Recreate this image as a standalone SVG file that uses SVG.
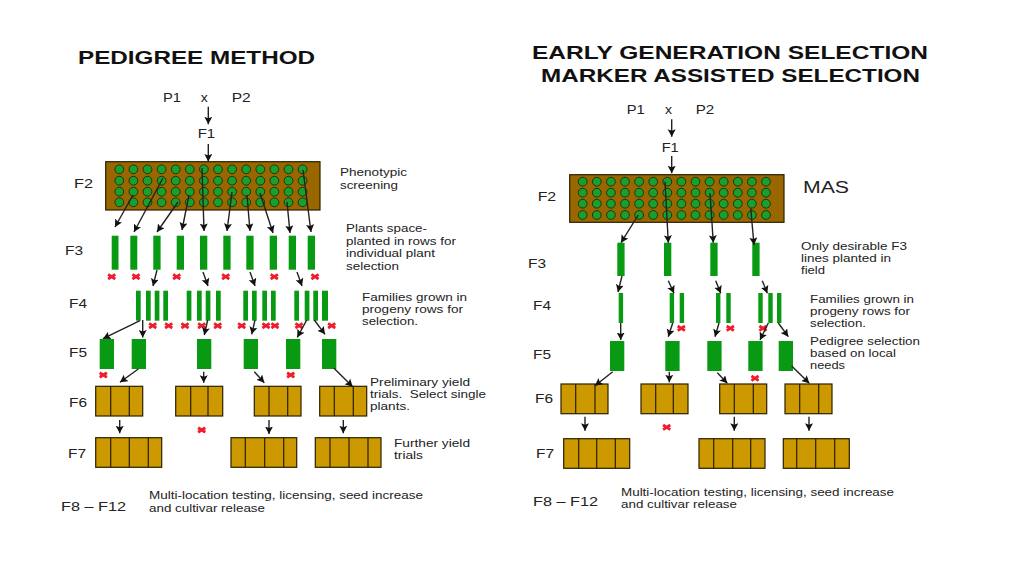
<svg xmlns="http://www.w3.org/2000/svg" width="1024" height="576" viewBox="0 0 1024 576">
<style>
text{font-family:"Liberation Sans",Arial,sans-serif;fill:#222}
.title{font-size:18px;font-weight:bold;fill:#111}
.gen{font-size:13px}
.note{font-size:11px}
.mas{font-size:16px}
.field{fill:#996600;stroke:#2a2000;stroke-width:1.2}
.bar{fill:#089a12}
.box{fill:#cc9900;stroke:#2a2000;stroke-width:1.2}
.dot{fill:#18a02c;stroke:#1c2a14;stroke-width:.9}
.cut{fill:none;stroke:#2a2000;stroke-width:1.2}
.arrow{fill:none;stroke:#222;stroke-width:1.4;marker-end:url(#head)}
.rej{fill:none;stroke:#ee1c2c;stroke-width:2.8}
</style>
<defs>
<marker id="head" markerUnits="userSpaceOnUse" markerWidth="9" markerHeight="9" refX="7.5" refY="4" orient="auto"><path d="M0 0L7.5 4L0 8L1.5 4Z" fill="#111"/></marker>
<path id="x" class="rej" d="M-3.6-2.3L3.6 2.3M-3.6 2.3L3.6-2.3"/>
<g id="row"><circle class="dot" cx="0" r="4.4"/><circle class="dot" cx="14.1" r="4.4"/><circle class="dot" cx="28.2" r="4.4"/><circle class="dot" cx="42.3" r="4.4"/><circle class="dot" cx="56.4" r="4.4"/><circle class="dot" cx="70.5" r="4.4"/><circle class="dot" cx="84.6" r="4.4"/><circle class="dot" cx="98.7" r="4.4"/><circle class="dot" cx="112.8" r="4.4"/><circle class="dot" cx="126.9" r="4.4"/><circle class="dot" cx="141" r="4.4"/><circle class="dot" cx="155.1" r="4.4"/><circle class="dot" cx="169.2" r="4.4"/><circle class="dot" cx="183.3" r="4.4"/></g>
</defs>
<rect width="1024" height="576" fill="#fff"/>

<g id="left-panel">
<g id="left-title"><text class="title" x="78" y="64" textLength="237" lengthAdjust="spacingAndGlyphs">PEDIGREE METHOD</text></g>
<g id="L-P1"><text class="gen" x="163" y="102.3" textLength="18" lengthAdjust="spacingAndGlyphs">P1</text></g>
<g id="L-x"><text class="gen" x="200.7" y="102.3" textLength="7" lengthAdjust="spacingAndGlyphs">x</text></g>
<g id="L-P2"><text class="gen" x="231.7" y="102.3" textLength="19" lengthAdjust="spacingAndGlyphs">P2</text></g>
<g id="L-F1"><text class="gen" x="197.7" y="138.3" textLength="17.5" lengthAdjust="spacingAndGlyphs">F1</text></g>
<g id="L-gen-labels">
<text class="gen" x="74" y="188.3" textLength="19" lengthAdjust="spacingAndGlyphs">F2</text>
<text class="gen" x="65" y="255" textLength="18" lengthAdjust="spacingAndGlyphs">F3</text>
<text class="gen" x="69" y="307.7" textLength="18" lengthAdjust="spacingAndGlyphs">F4</text>
<text class="gen" x="69" y="356.7" textLength="18" lengthAdjust="spacingAndGlyphs">F5</text>
<text class="gen" x="69" y="406.7" textLength="18" lengthAdjust="spacingAndGlyphs">F6</text>
<text class="gen" x="68" y="457.7" textLength="18" lengthAdjust="spacingAndGlyphs">F7</text>
<text class="gen" x="61" y="511" textLength="65" lengthAdjust="spacingAndGlyphs">F8 – F12</text>
</g>
<g id="L-notes">
<text class="note" x="340" y="175.7" textLength="67" lengthAdjust="spacingAndGlyphs">Phenotypic</text>
<text class="note" x="340" y="188.5" textLength="58" lengthAdjust="spacingAndGlyphs">screening</text>
<text class="note" x="346" y="232.3" textLength="81" lengthAdjust="spacingAndGlyphs">Plants space-</text>
<text class="note" x="346" y="244.5" textLength="110" lengthAdjust="spacingAndGlyphs">planted in rows for</text>
<text class="note" x="346" y="256.7" textLength="89" lengthAdjust="spacingAndGlyphs">individual plant</text>
<text class="note" x="346" y="270" textLength="53" lengthAdjust="spacingAndGlyphs">selection</text>
<text class="note" x="362" y="300.7" textLength="105" lengthAdjust="spacingAndGlyphs">Families grown in</text>
<text class="note" x="362" y="312.5" textLength="101" lengthAdjust="spacingAndGlyphs">progeny rows for</text>
<text class="note" x="362" y="325" textLength="56" lengthAdjust="spacingAndGlyphs">selection.</text>
<text class="note" x="370" y="385.7" textLength="100" lengthAdjust="spacingAndGlyphs">Preliminary yield</text>
<text class="note" x="370" y="398.3" textLength="116" lengthAdjust="spacingAndGlyphs" xml:space="preserve">trials.  Select single</text>
<text class="note" x="370" y="410" textLength="40" lengthAdjust="spacingAndGlyphs">plants.</text>
<text class="note" x="394" y="447" textLength="76" lengthAdjust="spacingAndGlyphs">Further yield</text>
<text class="note" x="394" y="458.5" textLength="29" lengthAdjust="spacingAndGlyphs">trials</text>
<text class="note" x="149" y="499.3" textLength="274" lengthAdjust="spacingAndGlyphs">Multi-location testing, licensing, seed increase</text>
<text class="note" x="149" y="511.7" textLength="116" lengthAdjust="spacingAndGlyphs">and cultivar release</text>
</g>

<g id="L-F2-field">
<rect class="field" x="105.7" y="161.7" width="214.3" height="48.3"/>
<use href="#row" x="119.3" y="169.3"/><use href="#row" x="119.3" y="180.7"/><use href="#row" x="119.3" y="191.7"/><use href="#row" x="119.3" y="202.3"/>
</g>
<g id="L-F3-1"><rect class="bar" x="111.7" y="235.7" width="6.8" height="34"/></g>
<g id="L-F3-2"><rect class="bar" x="130.3" y="235.7" width="7" height="34"/></g>
<g id="L-F3-3"><rect class="bar" x="153.3" y="235.7" width="7.3" height="34"/></g>
<g id="L-F3-4"><rect class="bar" x="176.7" y="235.7" width="7.3" height="34"/></g>
<g id="L-F3-5"><rect class="bar" x="200" y="235.7" width="7.3" height="34"/></g>
<g id="L-F3-6"><rect class="bar" x="223.3" y="235.7" width="7.3" height="34"/></g>
<g id="L-F3-7"><rect class="bar" x="246.3" y="235.7" width="7.3" height="34"/></g>
<g id="L-F3-8"><rect class="bar" x="269.7" y="235.7" width="7.3" height="34"/></g>
<g id="L-F3-9"><rect class="bar" x="288.7" y="235.7" width="7.3" height="34"/></g>
<g id="L-F3-10"><rect class="bar" x="307.7" y="235.7" width="7.3" height="34"/></g>

<g id="L-F4-1"><rect class="bar" x="136" y="290.7" width="4.7" height="30"/></g>
<g id="L-F4-2"><rect class="bar" x="146" y="290.7" width="4.7" height="30"/></g>
<g id="L-F4-3"><rect class="bar" x="154.7" y="290.7" width="4.7" height="30"/></g>
<g id="L-F4-4"><rect class="bar" x="163.3" y="290.7" width="4.7" height="30"/></g>
<g id="L-F4-5"><rect class="bar" x="186.7" y="290.7" width="4.7" height="30"/></g>
<g id="L-F4-6"><rect class="bar" x="197" y="290.7" width="4.7" height="30"/></g>
<g id="L-F4-7"><rect class="bar" x="205.7" y="290.7" width="4.7" height="30"/></g>
<g id="L-F4-8"><rect class="bar" x="216" y="290.7" width="4.7" height="30"/></g>
<g id="L-F4-9"><rect class="bar" x="243.3" y="290.7" width="4.7" height="30"/></g>
<g id="L-F4-10"><rect class="bar" x="252" y="290.7" width="4.7" height="30"/></g>
<g id="L-F4-11"><rect class="bar" x="262.3" y="290.7" width="4.7" height="30"/></g>
<g id="L-F4-12"><rect class="bar" x="271" y="290.7" width="4.7" height="30"/></g>
<g id="L-F4-13"><rect class="bar" x="294.3" y="290.7" width="4.7" height="30"/></g>
<g id="L-F4-14"><rect class="bar" x="304.7" y="290.7" width="4.7" height="30"/></g>
<g id="L-F4-15"><rect class="bar" x="313.3" y="290.7" width="4.7" height="30"/></g>
<g id="L-F4-16"><rect class="bar" x="322" y="290.7" width="6" height="30"/></g>

<g id="L-F5-1"><rect class="bar" x="99.7" y="339" width="14.3" height="30"/></g>
<g id="L-F5-2"><rect class="bar" x="131.7" y="339" width="14.3" height="30"/></g>
<g id="L-F5-3"><rect class="bar" x="197" y="339" width="14.3" height="30"/></g>
<g id="L-F5-4"><rect class="bar" x="243.7" y="339" width="14.3" height="30"/></g>
<g id="L-F5-5"><rect class="bar" x="286" y="339" width="14.3" height="30"/></g>
<g id="L-F5-6"><rect class="bar" x="322" y="339" width="14.3" height="30"/></g>

<g id="L-F6-1"><rect class="box" x="95.7" y="386.3" width="47" height="29.7"/><path class="cut" d="M110.7 386.3V416M129.3 386.3V416"/></g>
<g id="L-F6-2"><rect class="box" x="175.7" y="386.3" width="47" height="29.7"/><path class="cut" d="M190.7 386.3V416M208 386.3V416"/></g>
<g id="L-F6-3"><rect class="box" x="254.3" y="386.3" width="46.7" height="29.7"/><path class="cut" d="M269 386.3V416M287.7 386.3V416"/></g>
<g id="L-F6-4"><rect class="box" x="319.7" y="386.3" width="47" height="29.7"/><path class="cut" d="M334.3 386.3V416M353.3 386.3V416"/></g>
<g id="L-F7-1"><rect class="box" x="95.7" y="437.7" width="66" height="29.6"/><path class="cut" d="M110.7 437.7V467.3M129.3 437.7V467.3M148.3 437.7V467.3"/></g>
<g id="L-F7-2"><rect class="box" x="231" y="437.7" width="65.7" height="29.6"/><path class="cut" d="M245.3 437.7V467.3M264.7 437.7V467.3M283.7 437.7V467.3"/></g>
<g id="L-F7-3"><rect class="box" x="315.3" y="437.7" width="65.7" height="29.6"/><path class="cut" d="M330 437.7V467.3M349 437.7V467.3M368 437.7V467.3"/></g>
</g>

<g id="right-panel">
<g id="right-title">
<text class="title" x="532" y="59" textLength="396" lengthAdjust="spacingAndGlyphs">EARLY GENERATION SELECTION</text>
<text class="title" x="541" y="81.7" textLength="379" lengthAdjust="spacingAndGlyphs">MARKER ASSISTED SELECTION</text>
</g>
<g id="R-P1"><text class="gen" x="626.7" y="114" textLength="18" lengthAdjust="spacingAndGlyphs">P1</text></g>
<g id="R-x"><text class="gen" x="665" y="114" textLength="7" lengthAdjust="spacingAndGlyphs">x</text></g>
<g id="R-P2"><text class="gen" x="695.7" y="114" textLength="18.5" lengthAdjust="spacingAndGlyphs">P2</text></g>
<g id="R-F1"><text class="gen" x="661.7" y="151.7" textLength="17" lengthAdjust="spacingAndGlyphs">F1</text></g>
<g id="R-gen-labels">
<text class="gen" x="537.7" y="200.7" textLength="18.5" lengthAdjust="spacingAndGlyphs">F2</text>
<text class="gen" x="528" y="268" textLength="18" lengthAdjust="spacingAndGlyphs">F3</text>
<text class="gen" x="533" y="310" textLength="18" lengthAdjust="spacingAndGlyphs">F4</text>
<text class="gen" x="533" y="359" textLength="18" lengthAdjust="spacingAndGlyphs">F5</text>
<text class="gen" x="535" y="403.3" textLength="18" lengthAdjust="spacingAndGlyphs">F6</text>
<text class="gen" x="536" y="458" textLength="18" lengthAdjust="spacingAndGlyphs">F7</text>
<text class="gen" x="533" y="506" textLength="65" lengthAdjust="spacingAndGlyphs">F8 – F12</text>
</g>
<g id="R-notes">
<text class="mas" x="803" y="193.3" textLength="46" lengthAdjust="spacingAndGlyphs">MAS</text>
<text class="note" x="801" y="250" textLength="106" lengthAdjust="spacingAndGlyphs">Only desirable F3</text>
<text class="note" x="801" y="262.3" textLength="90" lengthAdjust="spacingAndGlyphs">lines planted in</text>
<text class="note" x="801" y="274" textLength="24" lengthAdjust="spacingAndGlyphs">field</text>
<text class="note" x="810" y="302.7" textLength="104" lengthAdjust="spacingAndGlyphs">Families grown in</text>
<text class="note" x="810" y="315" textLength="100" lengthAdjust="spacingAndGlyphs">progeny rows for</text>
<text class="note" x="810" y="326.7" textLength="56" lengthAdjust="spacingAndGlyphs">selection.</text>
<text class="note" x="810" y="345" textLength="110" lengthAdjust="spacingAndGlyphs">Pedigree selection</text>
<text class="note" x="810" y="356.7" textLength="86" lengthAdjust="spacingAndGlyphs">based on local</text>
<text class="note" x="810" y="369" textLength="35" lengthAdjust="spacingAndGlyphs">needs</text>
<text class="note" x="621" y="496" textLength="273" lengthAdjust="spacingAndGlyphs">Multi-location testing, licensing, seed increase</text>
<text class="note" x="621" y="508.3" textLength="116" lengthAdjust="spacingAndGlyphs">and cultivar release</text>
</g>

<g id="R-F2-field">
<rect class="field" x="569.7" y="174.7" width="214.3" height="47.6"/>
<use href="#row" x="582.7" y="181.7"/><use href="#row" x="582.7" y="192.7"/><use href="#row" x="582.7" y="203.7"/><use href="#row" x="582.7" y="215"/>
</g>
<g id="R-F3-1"><rect class="bar" x="617.3" y="242.7" width="7.3" height="33.3"/></g>
<g id="R-F3-2"><rect class="bar" x="664" y="242.7" width="7.3" height="33.3"/></g>
<g id="R-F3-3"><rect class="bar" x="710.3" y="242.7" width="7.3" height="33.3"/></g>
<g id="R-F3-4"><rect class="bar" x="752.3" y="242.7" width="7.3" height="33.3"/></g>

<g id="R-F4-1"><rect class="bar" x="618.7" y="293" width="4.4" height="30"/></g>
<g id="R-F4-2"><rect class="bar" x="669.7" y="293" width="4.4" height="30"/></g>
<g id="R-F4-3"><rect class="bar" x="679.7" y="293" width="4.4" height="30"/></g>
<g id="R-F4-4"><rect class="bar" x="716" y="293" width="4.4" height="30"/></g>
<g id="R-F4-5"><rect class="bar" x="726.3" y="293" width="4.4" height="30"/></g>
<g id="R-F4-6"><rect class="bar" x="758.3" y="293" width="4.4" height="30"/></g>
<g id="R-F4-7"><rect class="bar" x="768.3" y="293" width="4.4" height="30"/></g>
<g id="R-F4-8"><rect class="bar" x="777" y="293" width="4.4" height="30"/></g>

<g id="R-F5-1"><rect class="bar" x="610" y="341" width="14.3" height="30"/></g>
<g id="R-F5-2"><rect class="bar" x="665.3" y="341" width="14.3" height="30"/></g>
<g id="R-F5-3"><rect class="bar" x="707.3" y="341" width="14.3" height="30"/></g>
<g id="R-F5-4"><rect class="bar" x="748.3" y="341" width="14.3" height="30"/></g>
<g id="R-F5-5"><rect class="bar" x="778.7" y="341" width="14.3" height="30"/></g>

<g id="R-F6-1"><rect class="box" x="561" y="384" width="47" height="29.7"/><path class="cut" d="M575.7 384V413.7M595 384V413.7"/></g>
<g id="R-F6-2"><rect class="box" x="641" y="384" width="47" height="29.7"/><path class="cut" d="M655.7 384V413.7M673.3 384V413.7"/></g>
<g id="R-F6-3"><rect class="box" x="719.7" y="384" width="47" height="29.7"/><path class="cut" d="M734.3 384V413.7M753.3 384V413.7"/></g>
<g id="R-F6-4"><rect class="box" x="785" y="384" width="47" height="29.7"/><path class="cut" d="M799.7 384V413.7M818.7 384V413.7"/></g>
<g id="R-F7-1"><rect class="box" x="563.7" y="438.7" width="66" height="29.6"/><path class="cut" d="M578.7 438.7V468.3M596.7 438.7V468.3M615.3 438.7V468.3"/></g>
<g id="R-F7-2"><rect class="box" x="699" y="438.7" width="66" height="29.6"/><path class="cut" d="M713.7 438.7V468.3M732.7 438.7V468.3M750.7 438.7V468.3"/></g>
<g id="R-F7-3"><rect class="box" x="783.3" y="438.7" width="66" height="29.6"/><path class="cut" d="M796.7 438.7V468.3M815.7 438.7V468.3M834.7 438.7V468.3"/></g>
</g>

<g id="rejects">
<use href="#x" x="111.7" y="276.7"/><use href="#x" x="136" y="276.7"/><use href="#x" x="176.7" y="276.7"/><use href="#x" x="225.7" y="276.7"/><use href="#x" x="274.3" y="276.7"/><use href="#x" x="315" y="276.7"/>
<use href="#x" x="152.7" y="325.7"/><use href="#x" x="168.7" y="325.7"/><use href="#x" x="185" y="325.7"/><use href="#x" x="201.7" y="325.7"/><use href="#x" x="217.7" y="325.7"/><use href="#x" x="241.7" y="325.7"/><use href="#x" x="266" y="325.7"/><use href="#x" x="275" y="325.7"/><use href="#x" x="299" y="325.7"/><use href="#x" x="331.7" y="325.7"/>
<use href="#x" x="103.3" y="375"/><use href="#x" x="290.7" y="375"/><use href="#x" x="201.7" y="430"/>
<use href="#x" x="681.3" y="328.3"/><use href="#x" x="730.3" y="328.3"/><use href="#x" x="763" y="328.3"/><use href="#x" x="755" y="378.3"/><use href="#x" x="666.7" y="427.3"/>
</g>

<g id="connectors">
<path class="arrow" d="M208.3 106.7L208.3 124.3"/>
<path class="arrow" d="M208.3 144L208.3 161.5"/>
<path class="arrow" d="M133 195L115 227"/>
<path class="arrow" d="M163 178L134 232"/>
<path class="arrow" d="M178 202L157 232"/>
<path class="arrow" d="M189 195L182 230"/>
<path class="arrow" d="M202 168L204 231"/>
<path class="arrow" d="M232 192L227 231"/>
<path class="arrow" d="M247 195L250 231"/>
<path class="arrow" d="M260 193L273 233"/>
<path class="arrow" d="M287 202L290 233"/>
<path class="arrow" d="M303 170L311 232"/>
<path class="arrow" d="M157 270L153 286"/>
<path class="arrow" d="M203 272L208 286"/>
<path class="arrow" d="M250 272L255 286"/>
<path class="arrow" d="M297 272L302 286"/>
<path class="arrow" d="M140 320.7L103 338.7"/>
<path class="arrow" d="M142.7 320L142.7 337.5"/>
<path class="arrow" d="M207.7 320L204.3 335"/>
<path class="arrow" d="M255 320L251.7 334.3"/>
<path class="arrow" d="M306.7 320L297.3 337.3"/>
<path class="arrow" d="M314.3 320L325 334.3"/>
<path class="arrow" d="M138.3 369L120 382.3"/>
<path class="arrow" d="M203.7 371.7L203.7 382.7"/>
<path class="arrow" d="M254.3 371.7L264.3 382.7"/>
<path class="arrow" d="M334 368.3L352.7 386.7"/>
<path class="arrow" d="M119.7 420L119.7 433.3"/>
<path class="arrow" d="M269 420L269 434"/>
<path class="arrow" d="M343.3 420L343.3 433.3"/>
<path class="arrow" d="M671.7 119.3L671.7 136.7"/>
<path class="arrow" d="M671.7 156L671.7 173.3"/>
<path class="arrow" d="M638.3 215L621 242.7"/>
<path class="arrow" d="M665 181.7L668.3 242.7"/>
<path class="arrow" d="M710 193.3L713.3 242.7"/>
<path class="arrow" d="M750.7 208.3L754 245"/>
<path class="arrow" d="M622 276L618 292"/>
<path class="arrow" d="M668.3 280.7L674 293.3"/>
<path class="arrow" d="M715.7 280.7L720.7 293.3"/>
<path class="arrow" d="M762.3 280.7L767.3 293.3"/>
<path class="arrow" d="M620.7 323L620.7 340"/>
<path class="arrow" d="M672.7 323L668.3 336.7"/>
<path class="arrow" d="M719 323L715 336.7"/>
<path class="arrow" d="M768.3 323L760 340"/>
<path class="arrow" d="M778.3 323L788.3 336.7"/>
<path class="arrow" d="M612.7 371.7L595 385.7"/>
<path class="arrow" d="M669.3 371.7L669.3 382.3"/>
<path class="arrow" d="M717.3 372.7L727.3 383.3"/>
<path class="arrow" d="M791.7 366L809.3 383.3"/>
<path class="arrow" d="M585 416.7L585 430.7"/>
<path class="arrow" d="M734.3 416.7L734.3 430.7"/>
<path class="arrow" d="M809 416.7L809 430.7"/>
</g>
</svg>
